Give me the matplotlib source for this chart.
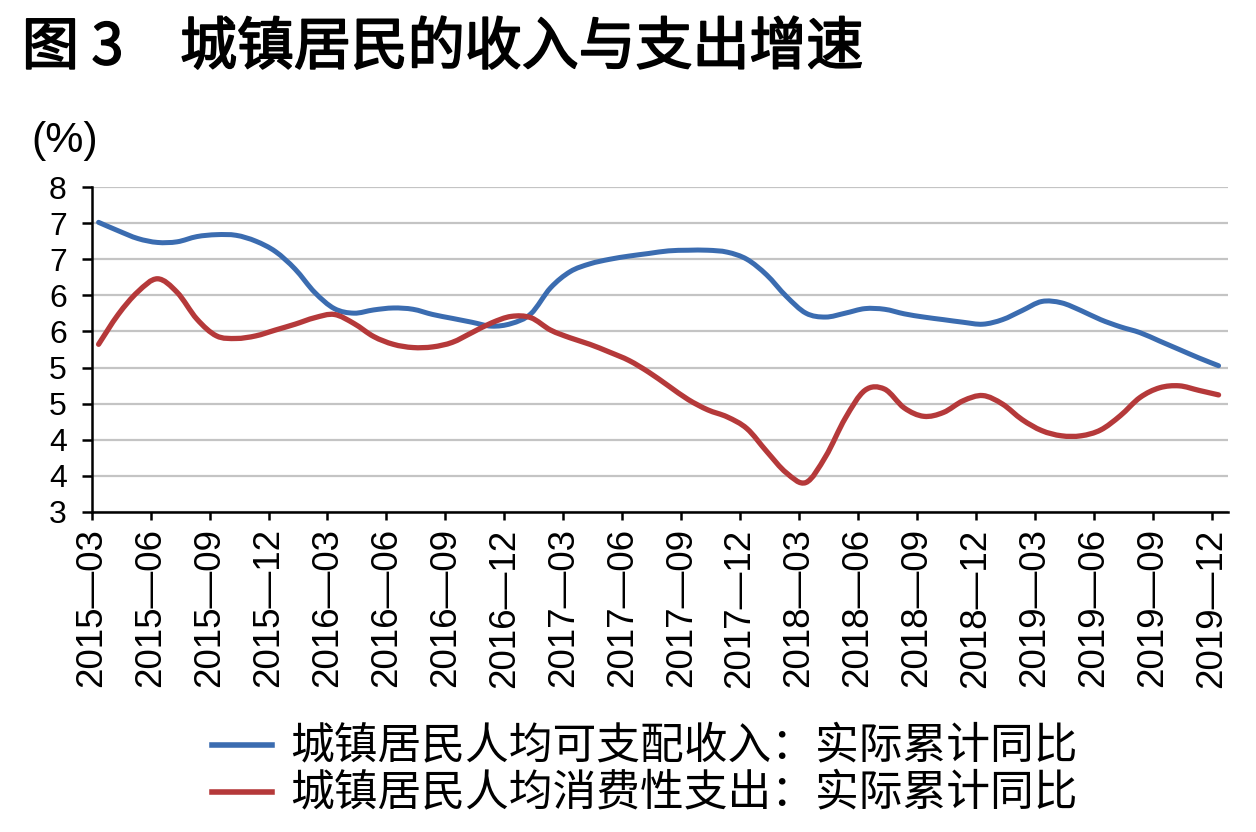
import numpy as np
import matplotlib.pyplot as plt
import matplotlib.patheffects as pe
from matplotlib.lines import Line2D
from matplotlib.path import Path
from matplotlib.patches import PathPatch
from matplotlib.ticker import FormatStrFormatter

# monthly readings, 2015-03 .. 2019-12 (58 months)
income = [7.46, 7.33, 7.21, 7.15, 7.16, 7.24, 7.27, 7.26, 7.17, 7.01,
          6.74, 6.38, 6.13, 6.06, 6.11, 6.14, 6.12, 6.04, 5.98, 5.92,
          5.86, 5.90, 6.05, 6.45, 6.70, 6.82, 6.89, 6.94, 6.98, 7.02,
          7.03, 7.03, 7.00, 6.89, 6.65, 6.32, 6.06, 6.00, 6.06, 6.13,
          6.12, 6.05, 6.00, 5.96, 5.92, 5.89, 5.96, 6.10, 6.24, 6.22,
          6.10, 5.96, 5.85, 5.76, 5.63, 5.50, 5.37, 5.25]
spending = [5.58, 6.04, 6.39, 6.59, 6.38, 5.97, 5.71, 5.67, 5.71, 5.80,
            5.89, 5.99, 6.04, 5.90, 5.70, 5.58, 5.53, 5.54, 5.61, 5.76,
            5.91, 6.01, 5.99, 5.80, 5.68, 5.58, 5.46, 5.33, 5.15, 4.94,
            4.73, 4.57, 4.46, 4.28, 3.93, 3.60, 3.45, 3.85, 4.44, 4.87,
            4.89, 4.60, 4.47, 4.53, 4.71, 4.79, 4.66, 4.42, 4.25, 4.17,
            4.17, 4.26, 4.48, 4.76, 4.91, 4.94, 4.87, 4.80]
quarter_labels = ["2015—03", "2015—06", "2015—09", "2015—12",
                  "2016—03", "2016—06", "2016—09", "2016—12",
                  "2017—03", "2017—06", "2017—09", "2017—12",
                  "2018—03", "2018—06", "2018—09", "2018—12",
                  "2019—03", "2019—06", "2019—09", "2019—12"]
legend_labels = ["城镇居民人均可支配收入：实际累计同比",
                 "城镇居民人均消费性支出：实际累计同比"]

blue = "#3b6cb0"
red = "#b5393a"

plt.rcParams['font.family'] = ['Liberation Sans', 'Noto Sans CJK SC', 'DejaVu Sans']
cjk = ['Noto Sans CJK SC', 'DejaVu Sans']


def smooth_path(xs, ys):
    # smoothed line through the points (catmull-rom -> bezier), like a spreadsheet "smoothed line"
    p = np.column_stack([xs, ys]).astype(float)
    ext = np.vstack([p[0], p, p[-1]])
    verts = [p[0]]
    codes = [Path.MOVETO]
    for i in range(len(p) - 1):
        p0, p1, p2, p3 = ext[i], ext[i + 1], ext[i + 2], ext[i + 3]
        verts += [p1 + (p2 - p0) / 6, p2 - (p3 - p1) / 6, p2]
        codes += [Path.CURVE4] * 3
    return Path(verts, codes)


W, H = 1256, 832
fig = plt.figure(figsize=(W / 100, H / 100), dpi=100)
ax = fig.add_axes([91.7 / W, 1 - 511.7 / H, (1228 - 91.7) / W, (511.7 - 187.3) / H])

x = np.arange(len(income)) + 0.35
for ys, c, lw in [(income, blue, 3.6), (spending, red, 3.8)]:
    ax.add_patch(PathPatch(smooth_path(x, ys), facecolor='none', edgecolor=c,
                           lw=lw, capstyle='round', joinstyle='round', zorder=5))

ax.set_xlim(0, 57.83)
ax.set_ylim(3, 8)
ax.set_yticks(np.linspace(3, 8, 10))
ax.yaxis.set_major_formatter(FormatStrFormatter('%.0f'))
ax.set_xticks(np.arange(0, len(income), 3))
ax.set_xticklabels(quarter_labels, rotation=90)

ax.grid(axis='y', color='#c4c4c4', lw=1.6, zorder=0)
ax.set_axisbelow(True)
for s in ['top', 'right']:
    ax.spines[s].set_visible(False)
for s in ['left', 'bottom']:
    ax.spines[s].set_linewidth(1.8)
    ax.spines[s].set_zorder(6)

ax.tick_params(axis='y', length=7, width=1.8, pad=11, labelsize=23)
ax.tick_params(axis='x', length=6, width=1.8, pad=6, labelsize=26.5)

fig.text(31 / W, 1 - 141 / H, "(%)", fontsize=31, va='center', ha='left')

# title: regular face thickened a little with a stroke
heavy = [pe.withStroke(linewidth=1.3, foreground='black')]
fig.text(22 / W, 1 - 48 / H, "图 3", fontsize=41, family=cjk,
         va='center', ha='left', path_effects=heavy)
fig.text(180 / W, 1 - 48 / H, "城镇居民的收入与支出增速", fontsize=41, family=cjk,
         va='center', ha='left', path_effects=heavy)

# legend
for yy, c, lab in [(745, blue, legend_labels[0]), (792, red, legend_labels[1])]:
    fig.add_artist(Line2D([212 / W, 272 / W], [1 - yy / H, 1 - yy / H],
                          color=c, lw=4, transform=fig.transFigure))
    fig.text(290 / W, 1 - yy / H, lab, fontsize=31.5, family=cjk,
             va='center', ha='left')

fig.savefig("out.png", dpi=100)
